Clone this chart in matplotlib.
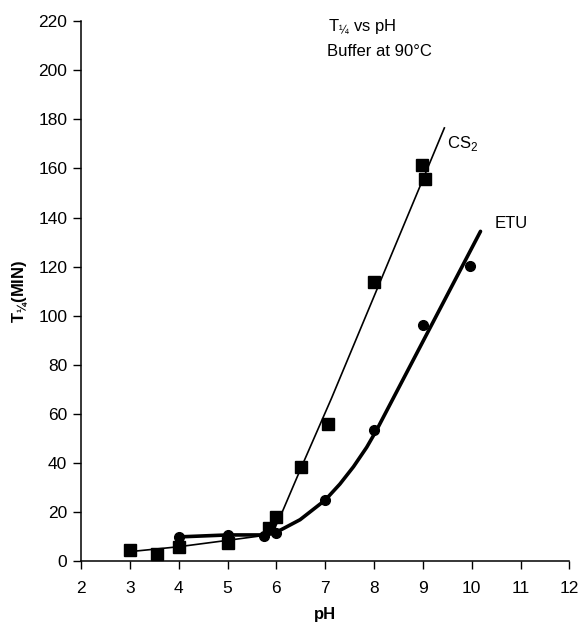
import matplotlib
matplotlib.use('Agg')
import matplotlib.pyplot as plt

plt.rcParams['font.family'] = ['Liberation Sans', 'DejaVu Sans']
plt.rcParams['mathtext.fontset'] = 'custom'
plt.rcParams['mathtext.rm'] = 'Liberation Sans'
plt.rcParams['mathtext.bf'] = 'Liberation Sans:bold'

# measured half-lives
cs2_ph = [3.0, 3.55, 4.0, 5.0, 5.85, 6.0, 6.5, 7.05, 8.0, 8.98, 9.04]
cs2_t = [4.5, 3.0, 5.7, 7.5, 13.8, 18.0, 38.3, 56.0, 113.8, 161.3, 155.6]

etu_ph = [4.0, 5.0, 5.75, 6.0, 7.0, 8.0, 9.0, 9.96]
etu_t = [9.9, 10.9, 10.2, 11.7, 24.9, 53.6, 96.4, 120.2]

# hand fitted curves
cs2_fit_ph = [3.0, 4.0, 5.0, 5.75, 5.88, 5.97, 6.06, 6.16, 6.34, 6.51, 7.13, 9.44]
cs2_fit_t = [4.0, 6.0, 8.6, 10.6, 11.8, 13.8, 17.4, 22.0, 30.4, 38.3, 66.5, 176.5]

etu_fit_ph = [4.0, 5.0, 5.8, 6.0, 6.485, 7.0, 7.3, 7.58, 7.85, 8.05, 10.18]
etu_fit_t = [10.0, 10.8, 10.8, 11.9, 17.0, 25.0, 31.5, 38.6, 46.5, 53.4, 134.4]

x_ticks = list(range(2, 13))
y_ticks = list(range(0, 221, 20))

fig = plt.figure(figsize=(5.8, 6.24), dpi=100)
ax = fig.add_axes([0.1397, 0.1002, 0.842, 0.866])

ax.plot(cs2_fit_ph, cs2_fit_t, color='black', lw=1.2, zorder=2)
ax.plot(etu_fit_ph, etu_fit_t, color='black', lw=2.6, zorder=2,
        solid_capstyle='round', solid_joinstyle='round')
ax.plot(cs2_ph, cs2_t, 's', color='black', ms=8, zorder=3)
ax.plot(etu_ph, etu_t, 'o', color='black', ms=7, zorder=3)

ax.text(9.5, 170.3, 'CS$_2$', fontsize=12, va='center', ha='left')
ax.text(10.47, 137.7, 'ETU', fontsize=12, va='center', ha='left')
ax.text(7.05, 217.5, r'T$_{\mathregular{¼}}$ vs pH', fontsize=12, va='center', ha='left')
ax.text(7.03, 207.5, 'Buffer at 90°C', fontsize=12, va='center', ha='left')

ax.set_xlim(2, 12)
ax.set_ylim(0, 220)
ax.set_xticks(x_ticks)
ax.set_yticks(y_ticks)
ax.spines['top'].set_visible(False)
ax.spines['right'].set_visible(False)
ax.spines['left'].set_linewidth(1.1)
ax.spines['bottom'].set_linewidth(1.1)
ax.tick_params(axis='both', direction='out', length=6, width=1.0, labelsize=12.5)
ax.tick_params(axis='x', pad=8)
ax.tick_params(axis='y', pad=4)

ax.set_xlabel('pH', fontsize=12, fontweight='bold', labelpad=8)
ax.set_ylabel(r'T$_{\mathregular{¼}}$(MIN)', fontsize=12, fontweight='bold', labelpad=6)

fig.savefig('out.png', dpi=100)
